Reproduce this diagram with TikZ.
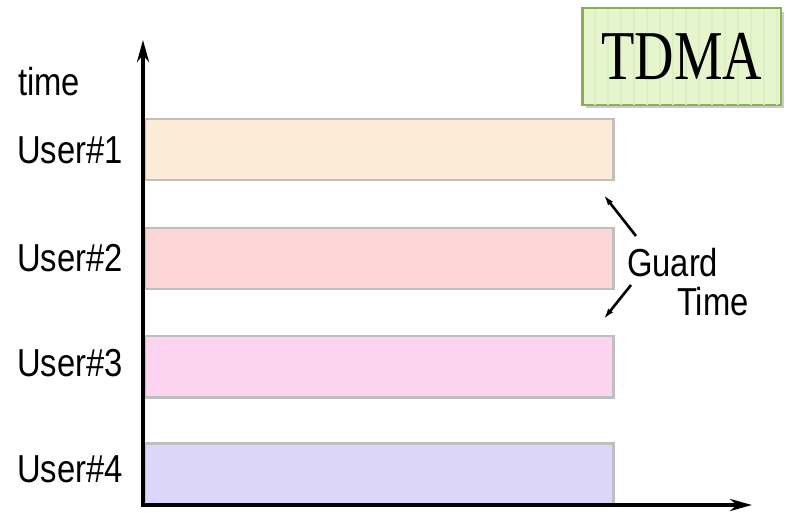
\documentclass[tikz,border=0pt]{standalone}
\usepackage{fontspec}
\newfontfamily\labelfont{Liberation Sans}
\newfontfamily\titlefont{Liberation Serif}
\usepackage{tikz}
\usetikzlibrary{arrows.meta,positioning,shadows}
\definecolor{slotA}{HTML}{FCEBD6}
\definecolor{slotB}{HTML}{FCD6D6}
\definecolor{slotC}{HTML}{FCD4EF}
\definecolor{slotD}{HTML}{DCD6FA}
\definecolor{slotline}{HTML}{BFBFBF}
\definecolor{titlefill}{HTML}{E6F5CD}
\definecolor{titlestripe}{HTML}{DCEFC0}
\definecolor{titleline}{HTML}{8DB04E}
\tikzset{
    slot/.style={rectangle, draw=slotline, line width=2.5pt, anchor=north west,
        minimum width=469pt, minimum height=61pt, inner sep=0pt},
    lbl/.style={anchor=base west, inner sep=0pt, xscale=0.84,
        font=\labelfont\fontsize{39}{40}\selectfont},
    axis/.style={line width=4pt, -{Stealth[length=22pt,width=12pt]}},
    guard/.style={line width=2.6pt, -{Latex[length=12pt,width=6pt]}}
}
\begin{document}
\begin{tikzpicture}[x=1pt,y=-1pt]
    \useasboundingbox (0,0) rectangle (788,513);
    % time slots
    \node[slot, fill=slotA] (u1) at (143,118) {};
    \node[slot, fill=slotB] (u2) at (143,227) {};
    \node[slot, fill=slotC] (u3) at (143,335) {};
    \node[slot, fill=slotD] (u4) at (143,442) {};
    % axes
    \coordinate (origin) at (143,505);
    \coordinate (ttop) at (143,40);
    \coordinate (xend) at (752,505);
    \draw[axis] (origin) -- (ttop);
    \draw[axis] ([xshift=-2pt]origin) -- (xend);
    % labels
    \node[lbl] (tlabel) at (18,96) {time};
    \node[lbl] (l1) at (17,164) {User\#1};
    \node[lbl] (l2) at (17,272) {User\#2};
    \node[lbl] (l3) at (17,377) {User\#3};
    \node[lbl] (l4) at (17,482) {User\#4};
    % guard time
    \node[lbl] (guard) at (627,277) {Guard};
    \node[lbl] (gtime) at (677,316) {Time};
    \coordinate (g1) at (603,194);
    \coordinate (g2) at (603,320);
    \draw[guard] (636,236) coordinate (gs1) -- (g1);
    \draw[guard] (631,285) coordinate (gs2) -- (g2);
    % title box
    \node[rectangle, draw=titleline, line width=1.5pt, fill=titlefill,
        drop shadow={shadow xshift=3pt, shadow yshift=-3pt, opacity=0.4},
        minimum width=198pt, minimum height=96pt, anchor=north west] (title) at (582,8) {};
    \foreach \i in {1,...,15}
        \draw[titlestripe, line width=2pt] ([xshift=\i*13pt]title.north west) -- ([xshift=\i*13pt]title.south west);
    \draw[titleline, line width=1.5pt] (title.north west) rectangle (title.south east);
    \node[inner sep=0pt, xscale=0.78, font=\titlefont\fontsize{70}{72}\selectfont] (tdma) at (title.center) {TDMA};
\end{tikzpicture}
\end{document}
